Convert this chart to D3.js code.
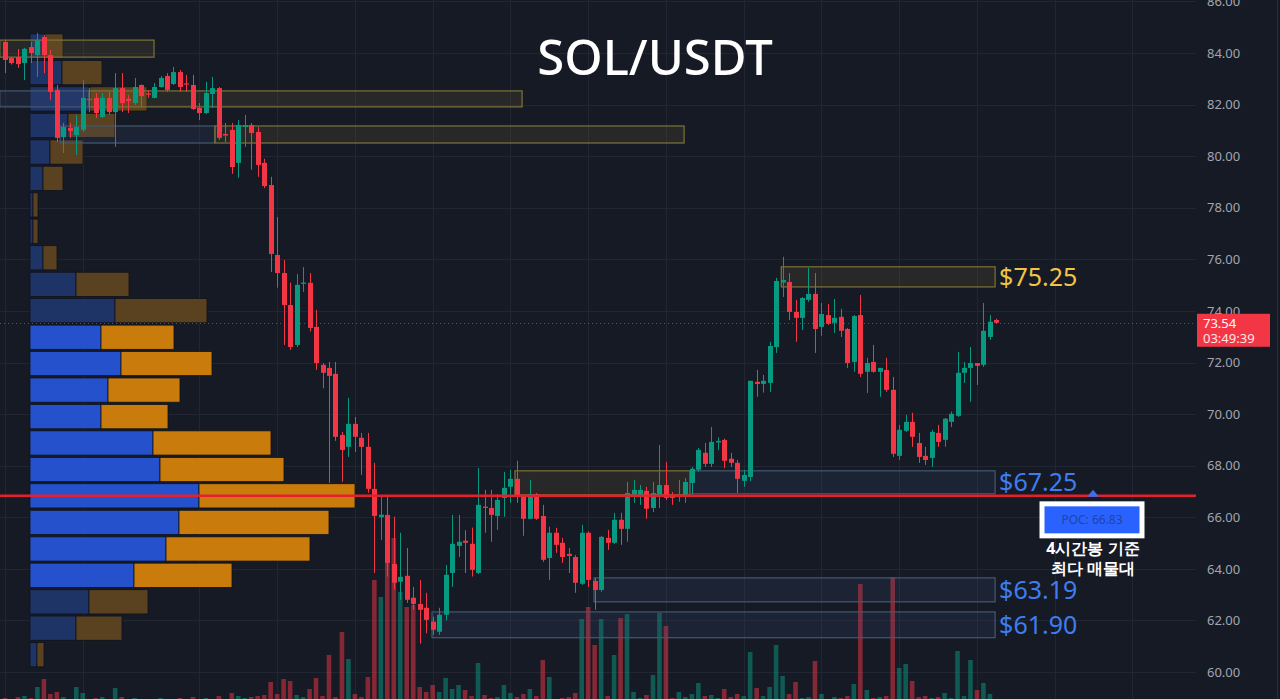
<!DOCTYPE html>
<html lang="en">
<head>
<meta charset="utf-8">
<title>SOL/USDT</title>
<script src="https://d3js.org/d3.v7.min.js"></script>
<style>
  html, body { margin: 0; padding: 0; background: #161a25; overflow: hidden; }
  svg { display: block; }
  text { font-family: "Noto Sans", sans-serif; }
</style>
</head>
<body>
<script>
// candle data (4h candles, index 0 = leftmost)
var open = [84.43,83.81,83.84,83.61,84.23,83.92,84.62,83.92,82.57,80.74,81.09,80.82,81.02,82.22,82.26,81.52,82.26,81.71,82.64,82.22,
  82.06,82.76,82.43,82.26,82.68,83.11,82.80,83.26,82.82,82.76,81.87,81.67,82.41,82.64,80.86,81.02,79.74,81.13,81.21,80.94,
  79.74,78.88,76.17,75.47,74.23,72.68,75.05,75.09,73.38,71.91,71.79,71.56,69.19,68.73,69.62,69.08,68.73,67.10,66.00,66.09,
  64.19,63.50,63.73,62.88,62.64,62.49,61.95,61.56,62.22,63.84,64.89,65.09,64.97,63.84,66.41,66.36,66.05,66.75,67.18,67.49,
  66.83,65.94,66.90,66.05,64.42,65.40,65.01,64.58,64.46,63.42,65.40,63.53,63.18,65.20,65.01,65.90,65.55,66.90,66.85,67.02,
  66.36,66.79,67.25,66.80,66.80,66.86,67.33,67.84,68.50,68.07,68.90,69.00,68.27,68.11,67.41,67.56,71.25,71.17,71.21,72.60,
  75.10,75.12,73.96,73.73,74.43,74.66,73.38,73.84,73.54,73.77,73.30,72.02,73.84,71.64,72.02,71.64,71.71,70.94,68.38,69.35,
  69.70,68.88,68.38,68.30,69.27,69.00,69.70,69.93,71.60,71.79,71.98,71.91,72.99,73.65];
var high = [84.50,83.85,84.15,84.20,84.43,84.78,84.70,84.12,82.76,81.29,81.29,81.60,82.95,82.64,82.45,82.45,82.49,83.22,83.22,82.37,
  83.03,82.78,82.57,82.84,83.11,83.22,83.46,83.34,83.15,83.15,82.06,82.88,83.07,82.68,81.29,81.29,81.40,81.60,81.29,81.13,
  79.90,79.20,77.64,75.98,75.10,75.43,75.70,75.47,74.04,71.98,72.02,72.02,69.31,70.63,69.89,69.27,69.27,68.11,66.79,66.79,
  66.02,65.40,64.81,63.30,63.57,63.07,62.14,62.49,64.15,66.09,66.09,65.50,65.60,67.91,67.06,67.06,66.90,67.76,67.84,68.19,
  66.86,67.45,66.94,66.48,65.63,65.59,65.20,64.81,64.54,65.71,65.45,63.65,65.28,65.51,66.17,66.17,67.37,67.45,67.25,67.18,
  67.37,68.80,68.15,66.98,67.45,67.52,67.95,68.69,68.88,69.50,69.10,69.05,68.50,68.22,67.84,71.29,71.71,71.52,72.80,75.28,
  76.10,75.47,74.43,74.54,75.67,75.47,74.31,74.27,74.46,74.08,73.34,73.84,74.62,72.18,72.68,71.79,72.18,71.44,69.58,69.97,
  70.05,69.27,68.73,69.39,69.58,69.85,70.10,72.41,72.02,72.60,71.98,74.31,73.84,73.70];
var low = [83.22,83.55,83.42,82.95,83.61,83.07,83.22,82.18,80.55,80.12,80.71,80.05,80.94,81.71,81.48,81.48,81.60,80.36,81.71,81.67,
  81.98,81.90,82.26,82.24,82.66,82.49,82.76,82.49,82.49,81.79,81.40,81.64,81.87,80.63,80.55,79.31,79.16,80.36,79.47,79.20,
  78.76,75.51,74.90,72.68,72.49,72.60,74.74,73.20,71.71,71.00,67.33,68.96,67.37,68.34,68.53,67.64,66.95,63.84,65.12,63.70,
  63.20,62.80,62.68,62.41,61.10,61.50,61.44,61.44,62.00,63.30,64.46,63.84,63.70,63.80,65.40,65.05,65.51,66.02,66.56,66.56,
  65.28,65.94,65.90,64.27,63.57,64.62,64.23,63.84,63.07,63.38,63.30,62.41,63.11,64.73,64.97,64.93,65.05,66.56,66.48,65.94,
  66.20,66.36,66.67,66.48,66.60,66.56,66.87,67.76,67.95,67.95,68.60,67.90,67.95,66.94,67.18,67.40,70.67,70.83,70.86,72.37,
  74.54,73.65,72.80,73.26,74.35,72.37,73.03,73.46,73.15,72.99,71.79,71.64,71.44,70.82,71.60,70.67,70.86,68.34,68.22,69.31,
  68.73,68.11,68.03,67.95,68.73,68.73,69.50,69.89,71.21,70.47,71.13,71.83,72.88,73.50];
var close = [83.73,83.61,83.57,84.16,84.00,84.50,83.92,82.49,80.71,81.13,80.98,81.13,82.26,82.18,81.67,82.26,81.71,82.64,82.06,82.14,
  82.68,82.33,82.39,82.68,83.03,82.57,83.26,82.68,82.78,81.83,81.67,82.45,82.64,80.71,80.80,79.58,81.21,81.20,80.90,79.66,
  78.84,76.21,75.47,74.23,72.60,75.01,75.10,73.34,71.98,71.60,71.48,69.12,68.61,69.62,69.12,68.73,67.10,66.05,66.10,64.23,
  63.46,63.69,62.80,62.64,62.41,62.02,61.64,62.22,63.77,64.97,65.05,65.01,63.96,66.48,66.36,66.09,66.67,67.14,67.49,66.83,
  65.94,66.90,65.94,64.35,65.40,64.93,64.46,64.50,63.46,65.40,63.57,63.18,65.24,65.01,65.90,65.55,66.94,67.06,67.06,66.33,
  66.94,67.25,66.75,66.75,66.86,67.37,67.88,68.61,68.07,68.92,68.96,68.19,68.11,67.49,67.64,71.29,71.17,71.29,72.64,75.16,
  75.20,73.96,73.73,74.50,74.66,73.30,73.88,73.50,73.73,73.23,71.98,73.80,71.56,71.98,71.64,71.79,70.94,68.46,69.39,69.70,
  69.12,68.34,68.22,69.31,68.92,69.82,70.01,71.60,71.79,71.98,71.87,73.23,73.58,73.54];
var volume = [4,3,5,6,4,15,23,8,10,5,3,15,9,3,4,5,3,14,5,3,
  4,3,2,3,4,3,3,4,2,5,3,4,3,6,3,9,6,4,5,6,
  7,20,8,23,21,7,5,13,24,6,47,5,70,43,8,5,25,122,105,162,
  164,110,95,97,15,10,17,10,24,13,17,12,6,39,7,4,5,17,9,5,
  8,13,6,42,25,3,4,5,9,83,95,57,83,6,47,84,88,10,4,7,
  27,89,76,4,10,5,8,19,6,7,4,13,5,8,6,50,14,6,15,57,
  26,8,20,4,5,41,8,3,5,4,6,18,118,12,4,5,6,125,34,38,
  21,5,6,4,5,9,4,51,6,42,12,19,8,3];

// price axis + grid
var priceTicks = [60,62,64,66,68,70,72,74,76,78,80,82,84,86];
var timeGrid = [0,12,30,42,54,66,78,90,102,114,126,138,150,162,174];

// volume profile rows (price of row centre, up volume, down volume)
var vpPrice = [60.67,61.70,62.72,63.75,64.77,65.80,66.83,67.85,68.88,69.90,70.93,71.96,72.98,74.01,75.03,76.06,77.09,78.11,79.14,80.16,81.19,82.22,83.24,84.27];
var vpUp =   [7,46,59,104,136,149,169,130,123,71,78,91,71,85,46,13,3,3,13,20,38,60,32,15];
var vpDown = [7,46,59,98,144,150,156,124,118,67,72,91,73,92,53,14,5,5,20,33,47,57,40,18];
var valueArea = [63.2, 73.5];
var poc = 66.83;

// zones: price range, candle index range
var zoneLo =   [83.84, 81.91, 81.91, 80.51, 80.51, 74.93, 66.87, 66.91, 62.72, 61.33];
var zoneHi =   [84.50, 82.53, 82.53, 81.17, 81.17, 75.71, 67.80, 67.80, 63.65, 62.33];
var zoneFrom = [-0.8, -0.8, 13, 8.5, 32.4, 119.8, 78.7, 105.7, 90.9, 65.9];
var zoneTo =   [23, 13, 79.8, 32.4, 104.8, 152.8, 105.7, 152.8, 152.8, 152.8];
var zoneKind = ["y","b","y","b","y","y","y","b","b","b"];
var zoneLabel = ["","","","","","$75.25","","$67.25","$63.19","$61.90"];

var lastPrice = 73.54;
var countdown = "03:49:39";

var W = 1280, H = 699, plotRight = 1196;

var x = d3.scaleLinear().domain([0, 153]).range([5, 996.4]);
var y = d3.scaleLinear().domain([60, 84]).range([672, 53]);
var vy = d3.scaleLinear().domain([0, 200]).range([702, 502]);
var vx = d3.scaleLinear().domain([0, 330]).range([30, 360]);

var UP = "#089981", DOWN = "#f23645";

var svg = d3.select("body").append("svg")
    .attr("width", W)
    .attr("height", H);

svg.append("rect")
    .attr("width", W)
    .attr("height", H)
    .attr("fill", "#161a25");

// grid
svg.append("g")
  .selectAll("line")
  .data(priceTicks)
  .enter().append("line")
    .attr("x1", 0).attr("x2", plotRight)
    .attr("y1", d => Math.round(y(d)) + 0.5)
    .attr("y2", d => Math.round(y(d)) + 0.5)
    .attr("stroke", "#222633");

svg.append("g")
  .selectAll("line")
  .data(timeGrid)
  .enter().append("line")
    .attr("x1", d => Math.round(x(d)) + 0.5)
    .attr("x2", d => Math.round(x(d)) + 0.5)
    .attr("y1", 0).attr("y2", H)
    .attr("stroke", "#222633");

svg.append("line")
    .attr("x1", 1277.5).attr("x2", 1277.5)
    .attr("y1", 0).attr("y2", H)
    .attr("stroke", "#2a2e39");

// volume bars
var idx = d3.range(close.length);
svg.append("g")
  .selectAll("rect")
  .data(idx)
  .enter().append("rect")
    .attr("x", i => x(i) - 2.3)
    .attr("width", 4.6)
    .attr("y", i => vy(volume[i]))
    .attr("height", i => vy(0) - vy(volume[i]))
    .attr("fill", i => close[i] >= open[i] ? UP : DOWN)
    .attr("fill-opacity", 0.5);

// volume profile
var vp = svg.append("g");
vpPrice.forEach(function (p, k) {
  var inVA = p >= valueArea[0] && p <= valueArea[1];
  var top = y(p + 0.47), bot = y(p - 0.47);
  vp.append("rect")
    .attr("x", vx(0)).attr("y", top)
    .attr("width", vx(vpUp[k]) - vx(0))
    .attr("height", bot - top)
    .attr("fill", inVA ? "#2552cc" : "#1f3466")
    .attr("stroke", "#10131b").attr("stroke-width", 0.8);
  vp.append("rect")
    .attr("x", vx(vpUp[k])).attr("y", top)
    .attr("width", vx(vpUp[k] + vpDown[k]) - vx(vpUp[k]))
    .attr("height", bot - top)
    .attr("fill", inVA ? "#c97b0b" : "#5a411f")
    .attr("stroke", "#10131b").attr("stroke-width", 0.8);
});

// zones
svg.append("g")
  .selectAll("rect")
  .data(zoneLo.map((d, i) => i))
  .enter().append("rect")
    .attr("x", i => x(zoneFrom[i]))
    .attr("width", i => x(zoneTo[i]) - x(zoneFrom[i]))
    .attr("y", i => y(zoneHi[i]))
    .attr("height", i => y(zoneLo[i]) - y(zoneHi[i]))
    .attr("fill", i => zoneKind[i] == "y" ? "rgba(130,120,50,0.16)" : "rgba(60,90,130,0.16)")
    .attr("stroke", i => zoneKind[i] == "y" ? "#7c7438" : "#44596f")
    .attr("stroke-width", 1.2);

// candles
var candles = svg.append("g").selectAll("g")
  .data(idx)
  .enter().append("g");

candles.append("line")
    .attr("x1", i => Math.round(x(i)) + 0.5)
    .attr("x2", i => Math.round(x(i)) + 0.5)
    .attr("y1", i => y(high[i]))
    .attr("y2", i => y(low[i]))
    .attr("stroke", i => close[i] >= open[i] ? UP : DOWN)
    .attr("stroke-width", 1);

candles.append("rect")
    .attr("x", i => Math.round(x(i)) + 0.5 - 2.5)
    .attr("width", 5)
    .attr("y", i => y(Math.max(open[i], close[i])))
    .attr("height", i => Math.max(1.2, Math.abs(y(open[i]) - y(close[i]))))
    .attr("fill", i => close[i] >= open[i] ? UP : DOWN);

// POC line
svg.append("line")
    .attr("x1", 0).attr("x2", plotRight)
    .attr("y1", y(poc)).attr("y2", y(poc))
    .attr("stroke", "#e3202c")
    .attr("stroke-width", 2.5);

// last price line
svg.append("line")
    .attr("x1", 0).attr("x2", plotRight)
    .attr("y1", Math.round(y(lastPrice)) + 0.5).attr("y2", Math.round(y(lastPrice)) + 0.5)
    .attr("stroke", "#f23645")
    .attr("stroke-opacity", 0.7)
    .attr("stroke-dasharray", "1,3");

// zone labels
svg.append("g")
  .selectAll("text")
  .data(zoneLo.map((d, i) => i).filter(i => zoneLabel[i]))
  .enter().append("text")
    .attr("x", i => x(zoneTo[i]) + 4)
    .attr("y", i => y((zoneLo[i] + zoneHi[i]) / 2))
    .attr("dy", "0.36em")
    .attr("font-size", 25)
    .attr("fill", i => zoneKind[i] == "y" ? "#f2c445" : "#3e7df0")
    .text(i => zoneLabel[i]);

// price axis
var axis = svg.append("g")
    .attr("transform", "translate(1207,0)")
    .call(d3.axisRight(y).tickValues(priceTicks).tickFormat(d3.format(".2f")).tickSize(0).tickPadding(0));
axis.select(".domain").remove();
axis.selectAll("text")
    .attr("font-family", "Noto Sans, sans-serif")
    .attr("font-size", 13)
    .attr("fill", "#a2a5ae");

// last price tag
svg.append("rect")
    .attr("x", 1197).attr("y", y(lastPrice) - 9)
    .attr("width", 73).attr("height", 33)
    .attr("fill", "#f23645");
svg.append("text")
    .attr("x", 1203).attr("y", y(lastPrice) + 5)
    .attr("font-size", 13).attr("fill", "#ffffff")
    .text(d3.format(".2f")(lastPrice));
svg.append("text")
    .attr("x", 1203).attr("y", y(lastPrice) + 20)
    .attr("font-size", 13).attr("fill", "#ffe5e7")
    .text(countdown);

// POC callout
var pocX = 1093;
svg.append("path")
    .attr("d", d3.line()([[pocX - 6, y(poc) + 1], [pocX, y(poc) - 6], [pocX + 6, y(poc) + 1]]))
    .attr("fill", "#3a6fe8");
svg.append("rect")
    .attr("x", pocX - 51).attr("y", y(poc) + 8)
    .attr("width", 100).attr("height", 32)
    .attr("fill", "#2962ff")
    .attr("stroke", "#ffffff").attr("stroke-width", 5);
svg.append("text")
    .attr("x", pocX - 1).attr("y", y(poc) + 28)
    .attr("text-anchor", "middle")
    .attr("font-size", 12).attr("fill", "#2343a6")
    .text("POC: " + d3.format(".2f")(poc));
svg.append("text")
    .attr("x", pocX).attr("y", y(poc) + 58)
    .attr("text-anchor", "middle")
    .attr("font-family", "Noto Sans CJK KR")
    .attr("font-size", 16).attr("font-weight", 700).attr("fill", "#ffffff")
    .text("4시간봉 기준");
svg.append("text")
    .attr("x", pocX).attr("y", y(poc) + 78)
    .attr("text-anchor", "middle")
    .attr("font-family", "Noto Sans CJK KR")
    .attr("font-size", 16).attr("font-weight", 700).attr("fill", "#ffffff")
    .text("최다 매물대");

// title
svg.append("text")
    .attr("x", 655).attr("y", 75)
    .attr("text-anchor", "middle")
    .attr("font-size", 49).attr("font-weight", 500)
    .attr("fill", "#ffffff")
    .text("SOL/USDT");
</script>
</body>
</html>
